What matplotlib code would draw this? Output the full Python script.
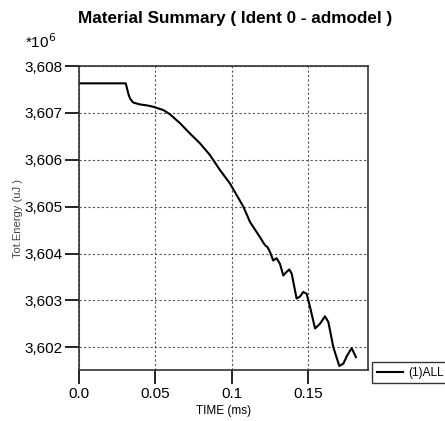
import matplotlib
matplotlib.use("Agg")
import matplotlib.pyplot as plt
from matplotlib.ticker import FixedLocator, FuncFormatter

plt.rcParams['font.family'] = ['Liberation Sans', 'DejaVu Sans']

time_ms = [0.0, 0.0306, 0.0312, 0.0317, 0.0325, 0.0334, 0.0345, 0.0356, 0.040, 0.0445,
           0.0487, 0.0553, 0.0596, 0.0662, 0.0727, 0.0793, 0.0858, 0.0924, 0.099, 0.1077,
           0.1121, 0.1186, 0.1212, 0.1225, 0.1235, 0.1252, 0.1273, 0.1285, 0.1295, 0.1317,
           0.1339, 0.1358, 0.1378, 0.1394, 0.1426, 0.1448, 0.147, 0.1492, 0.1514, 0.1547,
           0.1579, 0.1612, 0.1634, 0.1667, 0.1706, 0.1732, 0.1760, 0.1787, 0.1815]
energy = [3607.63, 3607.63, 3607.56, 3607.49, 3607.39, 3607.31, 3607.26, 3607.22, 3607.18, 3607.16,
          3607.13, 3607.06, 3606.97, 3606.78, 3606.56, 3606.35, 3606.10, 3605.78, 3605.49, 3605.00,
          3604.67, 3604.35, 3604.21, 3604.16, 3604.14, 3604.03, 3603.85, 3603.88, 3603.90, 3603.78,
          3603.53, 3603.60, 3603.66, 3603.57, 3603.04, 3603.08, 3603.18, 3603.14, 3602.86, 3602.40,
          3602.50, 3602.66, 3602.54, 3602.00, 3601.60, 3601.65, 3601.84, 3601.98, 3601.79]

xticks = [0.0, 0.05, 0.1, 0.15]
xtick_labels = ['0.0', '0.05', '0.1', '0.15']
yticks = [3602, 3603, 3604, 3605, 3606, 3607, 3608]

fig = plt.figure(figsize=(4.45, 4.21), dpi=100)
ax = fig.add_axes([79/445, 1-370/421, (368-79)/445, (370-66)/421])
ax.plot(time_ms, energy, color='black', lw=1.5, label='(1)ALL', solid_joinstyle='round')
ax.set_xlim(0, 0.1894)
ax.set_ylim(3601.515, 3608)
ax.xaxis.set_major_locator(FixedLocator(xticks))
ax.set_xticklabels(xtick_labels)
ax.yaxis.set_major_locator(FixedLocator(yticks))
ax.yaxis.set_major_formatter(FuncFormatter(lambda v, p: f"{int(round(v))//1000},{int(round(v))%1000:03d}"))
ax.tick_params(axis='both', direction='out', length=10, width=1.2, labelsize=11, pad=2)
ax.grid(True, color='#555555', linestyle=(0, (2, 2)), linewidth=0.8)
for s in ax.spines.values():
    s.set_linewidth(1.2)
    s.set_color('#333333')

ax.set_xlabel('TIME (ms)', fontsize=8.5, labelpad=3)
ax.set_ylabel('Tot.Energy (uJ )', fontsize=8, color='#444444', labelpad=1)
fig.text(235/445, 1-19/421, 'Material Summary ( Ident 0 - admodel )', ha='center', va='center',
         fontsize=12.3, fontweight='bold')
fig.text(25/445, 1-42/421, '*10$^6$', ha='left', va='center', fontsize=11)

leg = ax.legend(loc='upper left', bbox_to_anchor=(372/445, 1-362/421), bbox_transform=fig.transFigure,
                fontsize=8.5, frameon=True, fancybox=False, borderpad=0.4, handlelength=2.2,
                handletextpad=0.5, borderaxespad=0)
leg.get_frame().set_edgecolor('black')
leg.get_frame().set_linewidth(1.0)

fig.savefig('out.png', dpi=100)
